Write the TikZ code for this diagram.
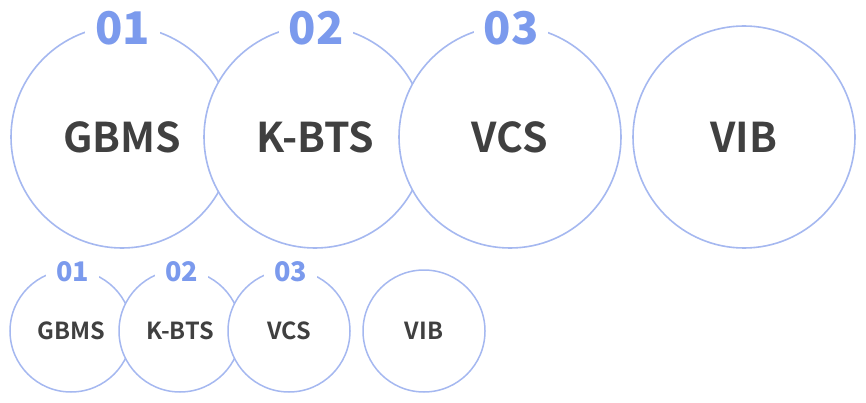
\documentclass[tikz,border=0pt]{standalone}
\usepackage{fontspec}
\setmainfont{Noto Sans CJK KR}[BoldFont={Noto Sans CJK KR Bold}]
\newfontfamily\numfont{Noto Sans CJK KR Black}
\definecolor{ring}{HTML}{A5B8F0}
\definecolor{num}{HTML}{7B9AED}
\definecolor{txt}{HTML}{404040}
\tikzset{
  bigring/.style={circle, draw=ring, fill=white, line width=1.6pt, minimum size=222pt, inner sep=0pt, text=txt, font=\bfseries\fontsize{41}{41}\selectfont},
  smallring/.style={circle, draw=ring, fill=white, line width=1.5pt, minimum size=122pt, inner sep=0pt, text=txt, font=\bfseries\fontsize{23.5}{23.5}\selectfont},
  bignum/.style={fill=white, text=num, inner xsep=10pt, inner ysep=2pt, font=\numfont\fontsize{45}{45}\selectfont},
  smallnum/.style={fill=white, text=num, inner xsep=10pt, inner ysep=2pt, font=\numfont\fontsize{27}{27}\selectfont}
}
\begin{document}
\begin{tikzpicture}[x=1pt,y=-1pt]
\useasboundingbox (0,0) rectangle (866,403);
\node[bigring] (c1) at (122,137) {GBMS};
\node[bigring] (c2) at (315,137) {K-BTS};
\node[bigring] (c3) at (510,137) {VCS};
\node[bigring] (c4) at (744,137) {VIB};
\node[bignum] (n1) at (122.5,28.5) {01};
\node[bignum] (n2) at (316,28.5) {02};
\node[bignum] (n3) at (511,28.5) {03};
\node[smallring] (s1) at (71,331) {GBMS};
\node[smallring] (s2) at (180,331) {K-BTS};
\node[smallring] (s3) at (289,331) {VCS};
\node[smallring] (s4) at (424,331) {VIB};
\node[smallnum] (m1) at (72.5,271.5) {01};
\node[smallnum] (m2) at (181.5,271.5) {02};
\node[smallnum] (m3) at (290.5,271.5) {03};
\end{tikzpicture}
\end{document}
